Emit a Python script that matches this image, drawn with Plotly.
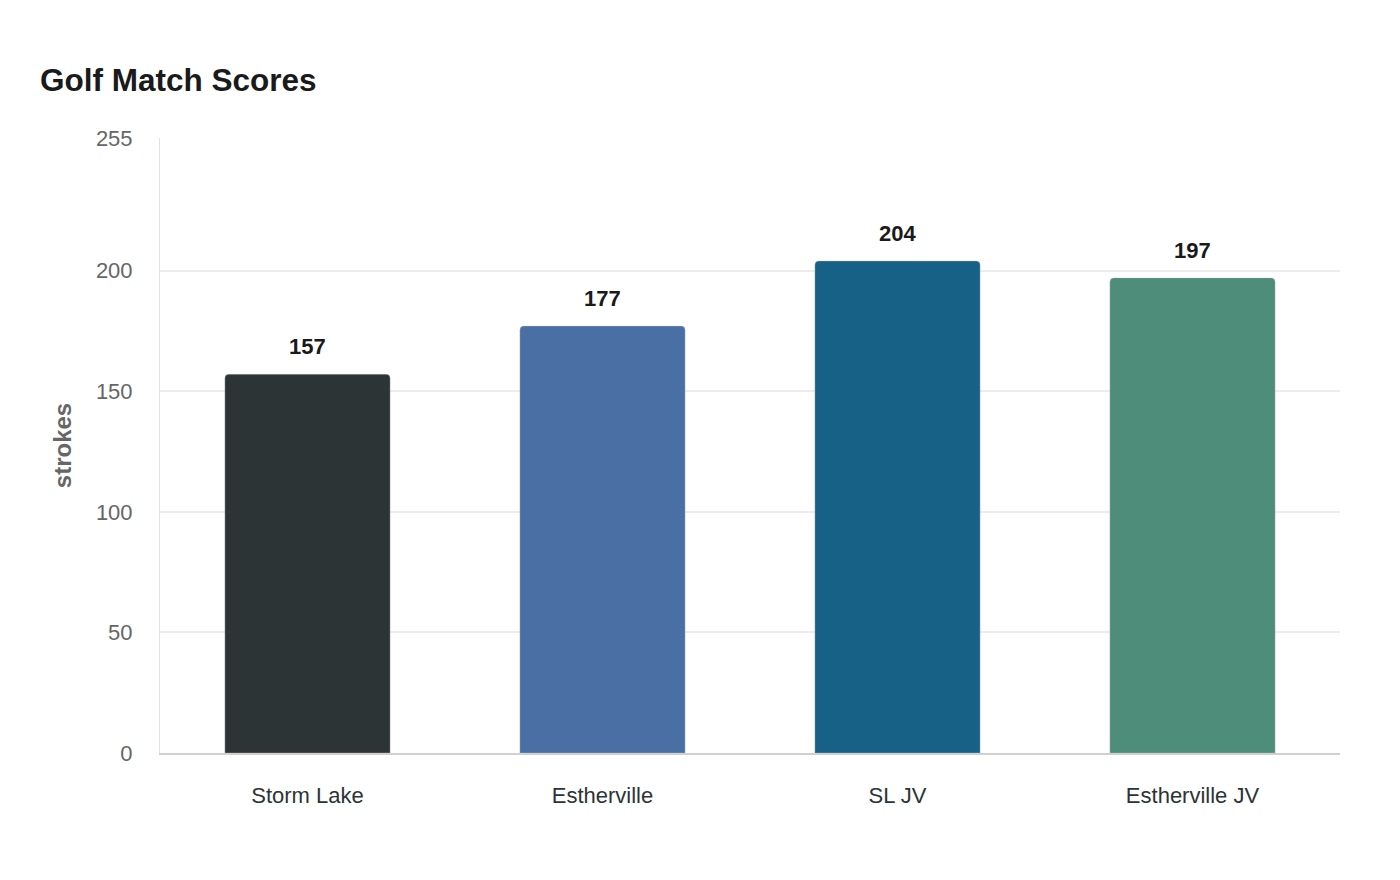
import plotly.graph_objects as go

teams = ["Storm Lake", "Estherville", "SL JV", "Estherville JV"]
strokes = [157, 177, 204, 197]
colors = ["#2d3436", "#4a6fa5", "#186186", "#4e8d7a"]
y_ticks = [0, 50, 100, 150, 200, 255]

fig = go.Figure()
fig.add_trace(
    go.Bar(
        x=teams,
        y=strokes,
        width=0.56,
        marker={
            "color": colors,
            "cornerradius": 4,
            "line": {"color": "rgba(190,190,190,0.6)", "width": 0.6},
        },
        hoverinfo="x+y",
    )
)

for team, value in zip(teams, strokes):
    fig.add_annotation(
        x=team,
        y=value,
        text=f"<b>{value}</b>",
        showarrow=False,
        yanchor="bottom",
        yshift=13,
        font={"size": 22, "color": "#1a1a1a"},
    )

fig.update_layout(
    width=1400,
    height=880,
    margin={"l": 152, "r": 68, "t": 130, "b": 135},
    paper_bgcolor="white",
    plot_bgcolor="white",
    font={"family": "Liberation Sans, Arial, sans-serif"},
    title={
        "text": "<b>Golf Match Scores</b>",
        "x": 32 / 1400,
        "xanchor": "left",
        "y": 1 - 72 / 880,
        "yanchor": "middle",
        "font": {"size": 31.5, "color": "#1a1a1a"},
    },
    showlegend=False,
)
fig.update_xaxes(
    showgrid=False,
    showline=True,
    linecolor="#d0d0d0",
    linewidth=1.5,
    ticks="",
    ticklabelstandoff=22,
    tickfont={"size": 22, "color": "#2d3436"},
)
fig.update_yaxes(
    range=[0, 255],
    tickvals=y_ticks,
    showgrid=True,
    gridcolor="#ececec",
    gridwidth=1.5,
    zeroline=False,
    showline=True,
    linecolor="#e2e2e2",
    linewidth=1,
    ticks="outside",
    ticklen=22,
    tickcolor="rgba(0,0,0,0)",
    tickfont={"size": 22, "color": "#666666"},
    title={
        "text": "<b>strokes</b>",
        "font": {"size": 24, "color": "#666666"},
        "standoff": 17,
    },
)

fig.write_html("out.html")
